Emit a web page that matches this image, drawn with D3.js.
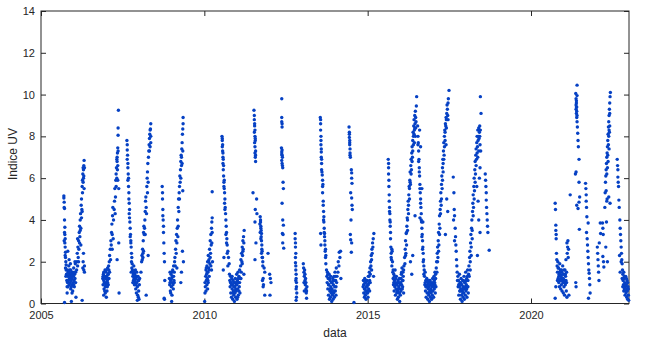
<!DOCTYPE html>
<html>
<head>
<meta charset="utf-8">
<style>
  body { margin: 0; background: #fff; }
  svg { display: block; font-family: "Liberation Sans", Arial, Helvetica, sans-serif; }
  .axis text { fill: #262626; font-size: 11px; }
  .axis line { stroke: #262626; }
  .lbl { fill: #262626; font-size: 12px; }
</style>
</head>
<body>
<svg id="chart"></svg>
<script src="https://d3js.org/d3.v7.min.js"></script>
<script>
// UV index readings, [decimal year, index], one array per campaign
var uv2005 = [[2005.70,5.15],[2005.70,5.05],[2005.71,4.85],[2005.72,4.55],[2005.72,4.0],[2005.73,3.65],[2005.73,3.3],[2005.74,3.1],[2005.74,2.7],[2005.75,2.45],[2005.75,2.2],[2005.76,2.0],[2005.77,1.85],[2005.77,1.6],[2005.78,1.4],[2005.79,1.1],[2005.80,0.8],[2005.80,0.5],[2005.72,0.05],
  [2005.81,1.6],[2005.82,1.3],[2005.83,1.5],[2005.84,1.1],[2005.85,1.4],[2005.86,0.9],[2005.87,1.2],[2005.88,1.6],[2005.89,1.0],[2005.90,1.3],[2005.91,0.7],[2005.92,1.1],[2005.93,1.4],[2005.94,0.9],[2005.95,1.2],[2005.96,1.5],[2005.97,0.6],[2005.98,1.0],[2005.99,1.3],[2006.00,1.7],[2006.01,1.1],[2006.02,0.8],[2006.03,1.4],[2006.04,1.2],[2006.05,1.9],[2006.06,1.5],[2006.07,0.3],[2005.93,0.1],[2005.95,0.5],[2005.82,2.5],[2005.86,2.1],[2005.90,1.9],
  [2006.09,1.6],[2006.10,2.0],[2006.11,2.4],[2006.12,1.8],[2006.13,2.7],[2006.14,2.2],[2006.15,3.0],[2006.16,2.6],[2006.17,3.4],[2006.18,3.7],[2006.19,3.2],[2006.20,4.0],[2006.21,4.3],[2006.22,3.6],[2006.23,4.7],[2006.24,5.0],[2006.25,4.5],[2006.26,5.6],[2006.27,5.9],[2006.28,6.2],[2006.29,5.8],[2006.30,6.4],[2006.31,6.6],[2006.32,6.85],[2006.30,6.0],[2006.28,1.7],[2006.26,0.15],[2006.33,6.5],[2006.31,1.6],[2006.33,1.8],[2006.29,2.0],
  [2005.71,4.6],[2005.72,3.4],[2005.73,2.9],[2005.74,2.3],[2005.75,1.7],[2005.76,1.3],[2005.71,3.0],[2005.81,1.0],[2005.83,0.8],[2005.85,1.8],[2005.87,1.5],[2005.89,1.3],[2005.91,1.6],[2005.93,0.8],[2005.97,1.4],[2006.00,0.9],[2006.02,1.5],[2006.04,2.0],[2006.06,1.0],
  [2006.12,3.1],[2006.15,2.0],[2006.18,2.9],[2006.20,3.5],[2006.22,2.8],[2006.24,4.1],[2006.26,4.4],[2006.27,5.3],[2006.29,6.5],[2006.31,6.1],[2006.32,5.5],[2006.30,2.4],[2006.33,1.5]];
var uv2006 = [[2006.89,1.2],[2006.90,0.9],[2006.91,1.4],[2006.92,1.1],[2006.93,0.7],[2006.94,1.3],[2006.95,1.0],[2006.96,1.6],[2006.97,0.8],[2006.98,1.2],[2006.99,1.5],[2007.00,1.0],[2007.01,1.3],[2007.02,0.6],[2007.03,1.1],[2007.04,1.7],[2007.05,1.4],[2007.06,0.9],[2007.07,1.8],[2007.08,1.2],[2007.09,2.0],[2007.10,1.5],[2006.92,0.4],[2006.97,0.5],[2007.00,0.3],
  [2007.10,2.3],[2007.12,2.6],[2007.13,2.1],[2007.14,3.0],[2007.15,2.8],[2007.16,3.4],[2007.17,3.8],[2007.18,3.3],[2007.19,4.2],[2007.20,4.6],[2007.22,4.0],[2007.24,4.5],[2007.26,5.5],[2007.28,5.1],[2007.29,5.9],[2007.30,6.2],[2007.31,6.5],[2007.32,6.0],[2007.33,6.8],[2007.34,7.2],[2007.35,7.45],[2007.34,6.4],[2007.36,8.05],[2007.36,8.4],[2007.37,9.25],[2007.38,5.5],[2007.38,2.9],[2007.39,0.5],[2007.33,2.1],
  [2006.90,1.3],[2006.92,1.5],[2006.94,1.0],[2006.96,1.3],[2006.98,0.9],[2007.00,1.6],[2007.02,1.2],[2007.04,1.0],[2007.06,1.4],[2007.08,1.6],[2006.95,0.6],[2007.03,0.8],
  [2007.18,2.6],[2007.21,3.1],[2007.25,4.9],[2007.27,4.3],[2007.30,5.6],[2007.32,6.9],[2007.33,7.0],[2007.35,6.6],[2007.36,7.3],[2007.35,5.9]];
var uv2007 = [[2007.63,7.8],[2007.64,7.35],[2007.65,7.1],[2007.64,6.9],[2007.66,6.5],[2007.67,6.2],[2007.66,5.9],[2007.68,5.6],[2007.69,5.0],[2007.70,4.8],[2007.71,4.5],[2007.70,4.3],[2007.72,3.9],[2007.73,3.6],[2007.74,3.3],[2007.75,2.9],[2007.76,2.7],[2007.77,2.4],[2007.78,2.2],[2007.79,1.9],
  [2007.80,1.6],[2007.81,1.3],[2007.82,1.5],[2007.83,1.1],[2007.84,1.8],[2007.85,1.2],[2007.86,0.9],[2007.87,1.4],[2007.88,1.0],[2007.89,1.6],[2007.90,0.7],[2007.91,1.2],[2007.92,0.5],[2007.93,1.0],[2007.94,1.3],[2007.95,0.8],[2007.96,0.4],[2007.97,1.1],[2007.98,0.3],[2007.99,0.6],[2008.00,0.2],[2008.01,0.9],[2007.95,0.15],
  [2008.06,1.5],[2008.08,2.0],[2008.09,2.3],[2008.10,2.1],[2008.11,2.6],[2008.12,2.4],[2008.13,3.0],[2008.14,3.4],[2008.15,3.7],[2008.16,3.3],[2008.18,4.0],[2008.19,4.4],[2008.20,4.9],[2008.21,5.1],[2008.22,4.6],[2008.24,5.6],[2008.25,6.0],[2008.26,6.3],[2008.27,6.7],[2008.28,5.8],[2008.30,7.3],[2008.31,7.6],[2008.32,7.9],[2008.33,8.1],[2008.34,7.5],[2008.35,8.35],[2008.36,8.6],[2008.22,0.4],[2008.28,2.3],
  [2007.64,7.6],[2007.66,6.7],[2007.68,6.0],[2007.69,5.3],[2007.71,4.1],[2007.73,3.2],[2007.75,3.0],[2007.77,2.0],[2007.78,1.7],[2007.76,1.5],
  [2007.81,1.0],[2007.83,1.4],[2007.85,1.5],[2007.87,1.1],[2007.89,1.3],[2007.91,0.9],[2007.93,1.5],[2007.97,1.3],[2007.99,1.1],[2008.02,1.2],
  [2008.12,2.2],[2008.14,2.5],[2008.17,3.6],[2008.19,3.3],[2008.23,4.3],[2008.26,5.3],[2008.29,7.0],[2008.32,7.3],[2008.34,8.3],[2008.36,7.7],[2008.36,8.0]];
var uv2008 = [[2008.71,5.6],[2008.72,5.3],[2008.72,5.0],[2008.73,4.5],[2008.73,4.2],[2008.74,4.0],[2008.75,3.7],[2008.75,3.4],[2008.76,2.9],[2008.77,2.4],[2008.78,2.0],[2008.79,1.1],[2008.77,0.25],[2008.78,0.2],
  [2008.93,1.2],[2008.94,0.9],[2008.95,1.5],[2008.96,0.6],[2008.97,1.1],[2008.98,1.4],[2008.99,0.8],[2009.00,1.2],[2009.01,0.4],[2009.02,1.0],[2009.03,1.6],[2009.04,1.3],[2009.05,0.7],[2009.06,1.8],[2009.07,1.1],[2009.08,1.5],[2009.09,2.0],[2009.00,0.1],
  [2009.10,2.2],[2009.11,1.8],[2009.12,2.6],[2009.13,3.0],[2009.14,2.4],[2009.15,3.3],[2009.16,1.7],[2009.17,3.6],[2009.18,4.0],[2009.19,3.2],[2009.20,4.6],[2009.21,5.0],[2009.22,4.4],[2009.23,5.3],[2009.24,5.6],[2009.25,6.1],[2009.26,5.8],[2009.27,6.4],[2009.28,6.8],[2009.29,7.1],[2009.30,6.6],[2009.31,7.4],[2009.32,7.7],[2009.33,8.1],[2009.34,8.35],[2009.35,8.9],[2009.33,2.5],[2009.30,1.5],[2009.28,1.0],[2009.36,2.0],
  [2008.95,1.0],[2008.97,0.5],[2009.00,1.5],[2009.02,1.3],[2009.04,0.9],[2009.06,1.3],[2009.08,1.0],
  [2009.16,2.9],[2009.20,3.7],[2009.24,5.0],[2009.28,6.0],[2009.30,7.0],[2009.32,6.7],[2009.34,7.3],[2009.35,8.6],[2009.34,5.4]];
var uv2010 = [[2010.01,0.1],[2010.02,0.5],[2010.02,1.0],[2010.03,0.8],[2010.04,1.3],[2010.05,0.6],[2010.05,1.6],[2010.06,1.1],[2010.07,1.4],[2010.08,0.9],[2010.08,1.8],[2010.09,1.2],[2010.10,2.0],[2010.11,1.5],[2010.12,1.0],[2010.12,2.3],[2010.13,1.7],[2010.14,2.1],[2010.15,1.3],[2010.16,2.6],[2010.17,1.9],[2010.18,3.0],[2010.19,2.4],[2010.20,3.3],[2010.21,2.8],[2010.22,3.6],[2010.23,3.9],[2010.24,4.1],[2010.24,5.35],[2010.22,1.6],[2010.25,2.0],
  [2010.06,1.7],[2010.09,1.5],[2010.11,1.1],[2010.13,2.0],[2010.15,1.6],[2010.18,2.2],[2010.20,1.8],[2010.23,2.9],[2010.24,3.4],[2010.10,0.7],
  [2010.54,8.0],[2010.55,7.8],[2010.55,7.5],[2010.56,7.3],[2010.57,7.0],[2010.57,6.7],[2010.58,6.4],[2010.59,6.1],[2010.60,5.8],[2010.61,5.5],[2010.62,5.3],[2010.63,5.0],[2010.64,4.6],[2010.65,4.3],[2010.66,4.0],[2010.67,3.7],[2010.68,3.4],[2010.69,3.1],[2010.70,2.8],[2010.72,2.5],[2010.74,2.2],[2010.76,1.9],[2010.60,2.2],[2010.58,1.6],
  [2010.55,7.9],[2010.56,7.6],[2010.57,7.2],[2010.58,6.9],[2010.59,6.6],[2010.60,5.6],[2010.61,5.9],[2010.62,4.8],[2010.63,4.5],[2010.66,3.3],[2010.68,2.9],[2010.70,2.4],[2010.72,1.8],
  [2010.77,1.4],[2010.78,1.1],[2010.79,0.8],[2010.80,1.3],[2010.81,0.5],[2010.82,1.0],[2010.83,0.3],[2010.84,1.2],[2010.85,0.7],[2010.86,0.9],[2010.87,0.2],[2010.88,1.1],[2010.89,0.6],[2010.90,0.4],[2010.91,1.0],[2010.92,0.1],[2010.93,0.8],[2010.94,0.5],[2010.95,1.2],[2010.96,0.3],[2010.97,0.9],[2010.98,0.6],[2010.99,1.4],[2011.00,0.2],[2011.01,1.1],[2011.02,0.7],[2011.03,1.5],[2011.04,0.4],[2011.05,1.0],[2011.06,1.3],[2011.07,0.8],[2011.08,1.6],[2011.09,0.5],[2011.10,1.2],
  [2010.80,1.0],[2010.83,0.9],[2010.85,1.3],[2010.88,0.5],[2010.90,0.8],[2010.92,0.6],[2010.94,1.0],[2010.96,0.7],[2010.98,1.0],[2011.00,0.9],[2011.02,0.3],[2011.04,1.2],[2011.06,0.6],[2011.08,1.0],
  [2011.11,1.8],[2011.12,2.1],[2011.13,1.5],[2011.14,2.4],[2011.15,2.0],[2011.16,2.7],[2011.17,2.3],[2011.18,3.0],[2011.19,2.6],[2011.20,3.2],[2011.22,3.5],[2011.21,1.4],[2011.12,1.2],[2011.16,1.9],[2011.18,2.5],[2011.21,2.9]];
var uv2011 = [[2011.49,5.3],[2011.52,9.25],[2011.53,8.8],[2011.54,8.5],[2011.53,8.2],[2011.55,8.0],[2011.56,7.8],[2011.54,7.7],[2011.55,7.5],[2011.57,7.3],[2011.56,7.0],[2011.57,6.8],[2011.60,5.0],[2011.56,4.5],[2011.61,4.3],[2011.55,3.9],[2011.58,2.9],[2011.55,2.1],
  [2011.53,9.0],[2011.54,8.6],[2011.55,8.3],[2011.56,7.9],[2011.55,7.2],[2011.57,7.1],
  [2011.70,3.8],[2011.71,4.15],[2011.72,4.0],[2011.72,3.9],[2011.73,3.6],[2011.73,3.7],[2011.74,3.5],[2011.74,3.2],[2011.75,3.35],[2011.75,3.0],[2011.76,2.8],[2011.76,2.6],[2011.77,2.5],[2011.78,2.2],[2011.79,2.0],[2011.83,1.7],[2011.85,1.5],[2011.78,1.1],[2011.81,0.9],[2011.85,0.4],[2011.80,0.8],[2011.95,2.4],[2012.00,1.4],[2012.02,1.2],[2012.04,1.0],[2012.01,0.4],
  [2011.71,3.4],[2011.73,3.1],[2011.75,2.4],[2011.77,2.2],[2011.79,1.8],[2011.80,1.2]];
var uv2012 = [[2012.37,9.8],[2012.37,8.9],[2012.38,8.6],[2012.38,8.45],[2012.36,7.45],[2012.37,7.25],[2012.38,7.1],[2012.39,7.0],[2012.37,6.85],[2012.38,6.7],[2012.40,6.5],[2012.41,5.8],[2012.42,5.5],[2012.38,4.8],[2012.40,4.0],[2012.42,3.75],[2012.39,3.35],[2012.41,3.3],[2012.40,2.9],[2012.43,2.65],
  [2012.37,8.7],[2012.38,7.35],[2012.39,6.6],[2012.37,7.15],
  [2012.78,3.35],[2012.78,3.1],[2012.79,2.9],[2012.79,2.7],[2012.80,2.4],[2012.79,1.95],[2012.80,1.8],[2012.80,1.6],[2012.81,1.4],[2012.81,1.2],[2012.82,1.0],[2012.82,0.8],[2012.83,0.5],[2012.82,0.3],[2012.81,0.15],[2012.79,2.2],[2012.80,1.1],[2012.81,0.7],
  [2013.03,1.9],[2013.04,1.7],[2013.05,1.5],[2013.06,1.3],[2013.07,1.6],[2013.08,1.1],[2013.09,0.9],[2013.10,1.2],[2013.11,0.7],[2013.12,0.5],[2013.13,0.25],[2013.14,0.8],[2013.06,0.6],[2013.05,1.0],[2013.08,1.4],[2013.11,1.0],[2013.13,0.6]];
var uv2013 = [[2013.55,8.9],[2013.56,8.8],[2013.56,8.3],[2013.57,8.0],[2013.57,7.6],[2013.58,7.25],[2013.58,7.0],[2013.59,6.7],[2013.59,6.4],[2013.61,6.15],[2013.62,5.9],[2013.63,5.7],[2013.62,5.3],[2013.64,4.7],[2013.65,4.4],[2013.66,4.15],[2013.66,3.9],[2013.67,3.6],[2013.68,3.35],[2013.68,3.2],[2013.69,2.8],[2013.70,2.5],[2013.71,2.2],[2013.72,1.9],[2013.56,3.35],[2013.57,2.8],
  [2013.56,8.6],[2013.57,7.8],[2013.58,7.4],[2013.59,6.9],[2013.60,6.3],[2013.62,5.6],[2013.64,4.9],[2013.65,4.0],[2013.67,3.4],[2013.69,3.0],[2013.71,2.6],[2013.72,2.3],
  [2013.74,1.6],[2013.75,1.3],[2013.76,1.0],[2013.77,1.5],[2013.78,0.7],[2013.79,1.2],[2013.80,0.4],[2013.81,0.9],[2013.82,1.4],[2013.83,0.2],[2013.84,0.6],[2013.85,1.1],[2013.86,0.3],[2013.87,0.8],[2013.88,0.5],[2013.89,1.0],[2013.90,0.1],[2013.91,0.7],[2013.92,0.4],[2013.93,1.2],[2013.94,0.2],[2013.95,0.9],[2013.96,0.5],[2013.97,1.3],[2013.98,0.3],[2013.99,0.8],[2014.00,1.5],[2014.01,0.6],[2014.02,1.1],[2014.03,0.4],[2014.04,1.7],[2014.05,1.0],
  [2013.78,1.4],[2013.80,0.9],[2013.83,1.2],[2013.85,0.7],[2013.87,1.3],[2013.89,0.6],[2013.91,1.0],[2013.93,0.5],[2013.95,1.1],[2013.97,0.6],[2013.99,1.1],[2014.01,1.3],[2014.03,0.8],[2014.06,1.3],
  [2014.09,1.5],[2014.10,2.0],[2014.12,1.8],[2014.13,2.45],[2014.15,2.2],[2014.17,2.5],[2014.18,1.2]];
var uv2014 = [[2014.43,8.45],[2014.44,8.2],[2014.44,7.95],[2014.45,7.8],[2014.45,7.6],[2014.46,7.4],[2014.46,7.2],[2014.47,7.0],[2014.50,6.4],[2014.51,6.25],[2014.51,6.0],[2014.52,5.75],[2014.48,5.3],[2014.51,5.05],[2014.52,4.7],[2014.53,4.5],[2014.49,4.0],[2014.47,3.3],[2014.48,3.05],[2014.51,2.9],[2014.50,2.45],[2014.58,0.05],[2014.45,7.7],[2014.46,7.1],[2014.44,8.1],
  [2014.86,0.8],[2014.87,1.1],[2014.88,0.5],[2014.89,0.9],[2014.90,0.3],[2014.91,1.2],[2014.92,0.7],[2014.93,0.4],[2014.94,1.0],[2014.95,0.2],[2014.96,0.8],[2014.97,0.5],[2014.98,1.1],[2014.99,0.6],[2015.00,0.9],[2015.01,0.3],[2015.02,1.3],[2015.03,0.7],[2015.04,1.0],[2015.05,1.5],[2015.06,0.6],
  [2014.88,0.9],[2014.90,0.7],[2014.92,1.0],[2014.94,0.6],[2014.96,1.1],[2014.98,0.8],[2015.00,0.5],[2015.02,0.9],[2015.04,1.3],[2015.06,1.1],[2015.08,1.0],[2015.12,1.6],
  [2015.07,1.7],[2015.08,1.4],[2015.09,2.0],[2015.10,1.8],[2015.11,2.3],[2015.12,2.1],[2015.13,2.6],[2015.14,2.4],[2015.15,2.9],[2015.16,2.7],[2015.17,3.1],[2015.19,3.35],[2015.18,1.3]];
var uv2015 = [[2015.63,6.9],[2015.64,6.5],[2015.64,6.2],[2015.65,5.9],[2015.66,5.2],[2015.66,4.9],[2015.67,4.6],[2015.68,4.3],[2015.68,4.0],[2015.69,3.7],[2015.70,3.4],[2015.71,2.7],[2015.72,2.4],[2015.73,2.1],[2015.74,1.8],[2015.75,2.5],[2015.76,2.0],
  [2015.64,6.7],[2015.65,5.6],[2015.67,4.4],[2015.69,3.9],[2015.70,3.1],[2015.72,2.2],[2015.74,2.6],
  [2015.77,1.5],[2015.78,1.2],[2015.79,0.9],[2015.80,1.4],[2015.81,0.6],[2015.82,1.1],[2015.83,0.8],[2015.84,1.6],[2015.85,0.4],[2015.86,1.0],[2015.87,0.7],[2015.88,1.3],[2015.89,0.5],[2015.90,0.9],[2015.91,0.2],[2015.92,0.6],[2015.93,1.1],[2015.94,0.3],[2015.95,0.8],[2015.96,0.5],[2015.97,1.2],[2015.98,0.1],[2015.99,0.7],[2016.00,0.4],[2016.01,1.0],[2016.02,0.6],[2016.03,1.4],[2016.04,0.9],[2016.05,1.7],[2016.06,1.1],[2016.07,0.8],[2016.08,1.5],[2016.09,1.3],[2016.10,0.5],[2016.11,1.8],
  [2015.78,1.6],[2015.80,1.0],[2015.82,1.3],[2015.84,0.9],[2015.86,1.2],[2015.88,0.9],[2015.90,0.6],[2015.92,1.0],[2015.94,0.7],[2015.96,1.0],[2015.98,0.5],[2016.00,0.9],[2016.02,1.2],[2016.04,1.5],[2016.06,0.7],[2016.08,1.1],[2016.10,1.6],
  [2016.13,2.2],[2016.14,1.9],[2016.15,2.6],[2016.16,3.0],[2016.17,2.4],[2016.18,3.35],[2016.19,2.8],[2016.20,3.7],[2016.21,4.1],[2016.22,3.5],[2016.23,4.5],[2016.24,4.9],[2016.25,4.3],[2016.26,5.2],[2016.27,5.6],[2016.28,5.0],[2016.29,5.9],[2016.30,6.3],[2016.31,5.7],[2016.32,6.6],[2016.33,6.9],[2016.34,6.4],[2016.35,7.2],[2016.36,7.5],[2016.37,7.0],[2016.38,7.8],[2016.39,8.2],[2016.40,7.6],[2016.41,8.5],[2016.42,8.8],[2016.43,8.3],[2016.44,9.0],[2016.45,8.6],[2016.47,8.9],[2016.49,9.45],[2016.50,9.9],[2016.46,8.0],[2016.48,8.7],[2016.31,2.0],[2016.35,1.4],[2016.38,2.3],[2016.45,4.2],
  [2016.16,2.3],[2016.19,3.4],[2016.22,4.0],[2016.25,4.7],[2016.28,5.5],[2016.30,5.8],[2016.33,6.2],[2016.36,6.8],[2016.38,7.3],[2016.40,8.0],[2016.42,8.1],[2016.44,8.4],[2016.46,9.2],[2016.43,7.7],[2016.47,8.4],
  [2016.53,8.5],[2016.54,8.0],[2016.55,7.7],[2016.56,7.3],[2016.57,6.9],[2016.58,6.5],[2016.59,6.1],[2016.60,5.7],[2016.61,5.3],[2016.62,5.0],[2016.63,4.6],[2016.64,4.3],[2016.65,3.9],[2016.66,3.6],[2016.67,3.3],[2016.68,3.0],[2016.69,2.7],[2016.70,2.4],[2016.71,2.1],[2016.72,1.8],[2016.73,1.6],[2016.59,8.3],[2016.62,7.5],[2016.60,4.1],[2016.66,5.5],[2016.69,3.9],
  [2016.54,7.6],[2016.56,6.8],[2016.58,6.3],[2016.60,5.5],[2016.62,4.8],[2016.64,4.0],[2016.66,3.2],[2016.68,2.6],[2016.70,2.0],[2016.72,1.4],
  [2016.74,1.3],[2016.75,0.9],[2016.76,1.5],[2016.77,0.6],[2016.78,1.1],[2016.79,0.3],[2016.80,0.8],[2016.81,1.2],[2016.82,0.5],[2016.83,0.9],[2016.84,0.2],[2016.85,0.7],[2016.86,1.0],[2016.87,0.4],[2016.88,0.8],[2016.89,0.1],[2016.90,0.6],[2016.91,1.1],[2016.92,0.3],[2016.93,0.7],[2016.94,0.5],[2016.95,1.0],[2016.96,0.2],[2016.97,0.8],[2016.98,0.4],[2016.99,1.2],[2017.00,0.6],[2017.01,0.9],[2017.02,0.3],[2017.03,1.3],[2017.04,0.7],[2017.05,1.0],[2017.06,1.5],[2017.07,0.5],[2017.08,1.2],[2017.09,0.8],
  [2016.76,1.0],[2016.78,0.8],[2016.80,1.1],[2016.82,0.8],[2016.84,1.0],[2016.86,0.5],[2016.88,1.1],[2016.90,0.9],[2016.92,0.6],[2016.94,0.9],[2016.96,0.6],[2016.98,0.9],[2017.00,1.0],[2017.02,0.8],[2017.04,1.1],[2017.06,0.9],[2017.08,1.4]];
var uv2017 = [[2017.10,1.7],[2017.11,2.0],[2017.12,1.5],[2017.13,2.4],[2017.14,2.7],[2017.15,2.2],[2017.16,3.0],[2017.17,3.4],[2017.18,2.8],[2017.19,3.8],[2017.20,4.2],[2017.21,3.6],[2017.22,4.5],[2017.23,4.9],[2017.24,5.3],[2017.25,4.7],[2017.26,5.7],[2017.27,6.1],[2017.28,5.5],[2017.29,6.5],[2017.30,6.9],[2017.31,6.3],[2017.32,7.3],[2017.33,7.7],[2017.34,7.1],[2017.35,8.0],[2017.36,8.3],[2017.37,7.8],[2017.38,8.6],[2017.40,8.9],[2017.41,8.4],[2017.42,9.1],[2017.44,9.3],[2017.46,8.8],[2017.47,9.8],[2017.49,10.2],[2017.45,9.0],[2017.42,5.0],[2017.45,4.4],[2017.38,3.3],
  [2017.14,2.0],[2017.17,2.5],[2017.20,3.3],[2017.23,4.3],[2017.26,5.0],[2017.29,5.9],[2017.31,6.7],[2017.33,6.9],[2017.35,7.5],[2017.37,8.2],[2017.39,8.5],[2017.41,8.8],[2017.43,9.5],[2017.46,9.6],[2017.40,7.6],
  [2017.62,6.05],[2017.64,5.3],[2017.65,4.5],[2017.66,4.2],[2017.68,3.6],[2017.69,3.2],[2017.70,2.8],[2017.71,2.5],[2017.72,2.1],[2017.73,1.8],[2017.74,1.5],[2017.75,1.1],[2017.66,3.0],[2017.63,4.0],
  [2017.76,1.3],[2017.77,0.8],[2017.78,1.1],[2017.79,0.4],[2017.80,0.9],[2017.81,1.4],[2017.82,0.6],[2017.83,1.0],[2017.84,0.2],[2017.85,0.7],[2017.86,1.2],[2017.87,0.4],[2017.88,0.9],[2017.89,0.1],[2017.90,0.6],[2017.91,1.1],[2017.92,0.3],[2017.93,0.8],[2017.94,0.5],[2017.95,1.3],[2017.96,0.2],[2017.97,0.7],[2017.98,1.0],[2017.99,0.4],[2018.00,1.5],[2018.01,0.6],[2018.02,0.9],[2018.03,1.2],[2018.04,0.3],[2018.05,0.8],[2018.06,1.6],[2018.07,1.1],[2018.08,0.5],
  [2017.77,1.1],[2017.79,0.9],[2017.81,0.8],[2017.83,0.6],[2017.85,1.0],[2017.87,0.9],[2017.89,0.7],[2017.91,0.5],[2017.93,1.1],[2017.95,0.7],[2017.97,1.0],[2017.99,0.8],[2018.01,1.1],[2018.03,0.7],[2018.05,1.3],[2018.07,0.8]];
var uv2018 = [[2018.09,1.4],[2018.10,1.8],[2018.11,1.3],[2018.12,2.2],[2018.13,2.5],[2018.14,2.0],[2018.15,2.9],[2018.16,3.3],[2018.17,2.7],[2018.18,3.6],[2018.19,4.0],[2018.20,3.5],[2018.21,4.4],[2018.22,4.8],[2018.23,5.2],[2018.24,4.6],[2018.25,5.6],[2018.26,6.0],[2018.27,5.4],[2018.28,6.4],[2018.29,6.8],[2018.30,6.2],[2018.31,7.1],[2018.32,7.4],[2018.33,6.9],[2018.34,7.7],[2018.35,8.0],[2018.36,7.5],[2018.37,8.3],[2018.39,8.0],[2018.40,7.3],[2018.42,8.2],[2018.44,7.6],[2018.45,9.9],[2018.47,9.1],[2018.43,8.5],[2018.34,5.6],[2018.38,4.9],[2018.40,4.0],[2018.44,3.4],[2018.36,2.3],
  [2018.14,1.6],[2018.17,2.3],[2018.20,3.1],[2018.23,4.2],[2018.26,5.0],[2018.29,5.8],[2018.32,6.6],[2018.35,7.2],[2018.37,7.0],[2018.38,7.8],[2018.40,8.4],[2018.41,7.9],[2018.43,8.0],[2018.45,8.3],[2018.46,7.3],[2018.44,6.5],[2018.42,6.0],
  [2018.60,6.2],[2018.61,5.9],[2018.62,5.6],[2018.63,5.3],[2018.63,4.95],[2018.64,4.6],[2018.65,4.3],[2018.66,4.0],[2018.67,3.7],[2018.68,3.4],[2018.72,2.55]];
var uv2020 = [[2020.74,4.8],[2020.75,4.5],[2020.76,3.75],[2020.76,3.5],[2020.77,3.3],[2020.77,3.1],[2020.78,2.4],[2020.79,2.1],[2020.76,0.8],[2020.74,0.25],
  [2020.80,1.8],[2020.81,1.5],[2020.82,2.0],[2020.83,1.2],[2020.84,1.7],[2020.85,1.0],[2020.86,1.4],[2020.87,0.8],[2020.88,1.9],[2020.89,1.1],[2020.90,1.6],[2020.91,0.7],[2020.92,1.3],[2020.93,0.9],[2020.94,1.5],[2020.95,0.6],[2020.96,1.2],[2020.97,1.8],[2020.98,1.0],[2020.99,0.5],[2021.00,1.4],[2021.01,0.8],[2021.02,1.1],[2021.03,0.4],[2021.04,1.6],[2021.05,0.9],[2021.06,1.3],[2021.07,2.1],[2021.08,0.6],[2021.09,1.0],[2021.10,0.3],
  [2020.81,1.1],[2020.83,1.7],[2020.85,1.3],[2020.87,1.5],[2020.89,1.4],[2020.91,1.2],[2020.93,1.6],[2020.95,1.1],[2020.97,1.4],[2020.99,1.2],[2021.01,1.6],[2021.03,1.0],[2021.05,1.4],[2021.07,1.1],[2021.09,1.5],
  [2021.11,2.4],[2021.12,2.7],[2021.13,3.0],[2021.14,2.2],[2021.15,2.6],[2021.16,0.4],[2021.20,5.2],[2021.10,2.9]];
var uv2021 = [[2021.41,10.45],[2021.37,10.05],[2021.38,9.8],[2021.39,9.6],[2021.40,9.4],[2021.38,9.3],[2021.39,9.1],[2021.40,8.9],[2021.41,8.7],[2021.42,8.45],[2021.43,8.15],[2021.44,7.8],[2021.45,7.5],[2021.47,6.9],[2021.36,6.2],[2021.38,6.3],[2021.47,5.8],[2021.49,5.1],[2021.47,4.85],[2021.44,4.55],[2021.48,3.55],[2021.40,4.7],[2021.37,1.0],[2021.38,0.8],[2021.39,9.7],[2021.41,9.95],[2021.39,9.4],[2021.40,9.2],[2021.41,9.0],[2021.38,9.5],
  [2021.67,5.75],[2021.68,5.5],[2021.69,5.2],[2021.69,4.9],[2021.70,4.6],[2021.71,4.15],[2021.70,3.4],[2021.72,3.1],[2021.73,2.8],[2021.74,2.5],[2021.75,2.2],[2021.76,1.9],[2021.77,1.6],[2021.78,1.45],[2021.79,1.2],[2021.80,0.9],[2021.81,0.5],[2021.76,0.25],[2021.75,3.85],[2022.03,2.7],[2022.04,2.4],[2022.05,2.1],[2022.06,1.8],[2022.07,1.5],[2022.08,1.1],[2022.12,3.85],[2022.13,3.35],[2022.09,2.9]];
var uv2022 = [[2022.19,3.85],[2022.20,3.6],[2022.21,3.3],[2022.20,2.25],[2022.22,2.0],[2022.23,1.75],[2022.27,5.3],[2022.28,5.8],[2022.29,6.1],[2022.30,6.4],[2022.31,6.7],[2022.32,7.0],[2022.33,7.2],[2022.34,7.5],[2022.35,7.8],[2022.36,8.1],[2022.37,8.45],[2022.38,8.7],[2022.39,9.0],[2022.40,9.3],[2022.41,9.6],[2022.42,9.9],[2022.43,10.1],[2022.41,8.5],[2022.39,7.4],[2022.36,6.8],[2022.33,5.0],[2022.42,4.8],[2022.38,5.1],[2022.34,2.0],[2022.31,3.9],[2022.29,2.7],[2022.26,4.6],[2022.30,5.4],[2022.32,4.9],
  [2022.38,8.0],[2022.40,8.2],[2022.41,9.1],[2022.39,8.3],[2022.37,7.6],[2022.35,7.1],[2022.34,6.5],[2022.32,6.2],
  [2022.64,6.9],[2022.65,6.6],[2022.66,6.4],[2022.66,6.05],[2022.67,5.8],[2022.68,5.6],[2022.69,4.95],[2022.70,4.6],[2022.72,4.0],[2022.73,3.6],[2022.74,3.3],[2022.75,3.0],[2022.76,2.7],[2022.77,2.4],[2022.78,2.1],[2022.79,1.9],[2022.80,1.6],[2022.81,1.4],[2022.82,1.1],[2022.83,0.9],[2022.84,1.5],[2022.85,1.2],[2022.86,0.7],[2022.87,1.0],[2022.88,0.4],[2022.89,0.8],[2022.90,1.3],[2022.91,0.5],[2022.92,0.9],[2022.93,0.3],[2022.94,1.1],[2022.95,0.6],[2022.96,0.2],[2022.97,0.8],[2022.98,0.4],[2022.99,0.15],[2022.71,2.3],[2022.73,1.5],
  [2022.84,0.6],[2022.86,1.3],[2022.88,0.9],[2022.90,0.6],[2022.92,1.2],[2022.94,0.7],[2022.96,1.0],[2022.98,0.7],[2022.79,1.2],[2022.81,0.8],[2022.76,2.0]];

var xTicks = [2005, 2010, 2015, 2020];
var yTicks = [0, 2, 4, 6, 8, 10, 12, 14];

var width = 650, height = 340;
var margin = {top: 11, right: 21, bottom: 36.5, left: 41};
var w = width - margin.left - margin.right, h = height - margin.top - margin.bottom;

var svg = d3.select("#chart").attr("width", width).attr("height", height);
var g = svg.append("g").attr("transform", "translate(" + margin.left + "," + margin.top + ")");

var x = d3.scaleLinear().domain([2005, 2023]).range([0, w]);
var y = d3.scaleLinear().domain([0, 14]).range([h, 0]);

var points = [uv2005, uv2006, uv2007, uv2008, uv2010, uv2011, uv2012, uv2013, uv2014, uv2015, uv2017, uv2018, uv2020, uv2021, uv2022].flat();

// axes, ticks point inward like the original
g.append("g").attr("class", "axis").attr("transform", "translate(0," + h + ")")
    .call(d3.axisBottom(x).tickValues(xTicks).tickFormat(d3.format("d")).tickSize(-5).tickSizeOuter(0).tickPadding(8));
g.append("g").attr("class", "axis")
    .call(d3.axisTop(x).tickValues(xTicks).tickFormat("").tickSize(-5).tickSizeOuter(0));
g.append("g").attr("class", "axis")
    .call(d3.axisLeft(y).tickValues(yTicks).tickSize(-5).tickSizeOuter(0).tickPadding(6));
g.append("g").attr("class", "axis").attr("transform", "translate(" + w + ",0)")
    .call(d3.axisRight(y).tickValues(yTicks).tickFormat("").tickSize(-5).tickSizeOuter(0));
g.selectAll(".axis .domain").remove();

g.append("rect").attr("width", w).attr("height", h)
    .attr("fill", "none").attr("stroke", "#262626").attr("stroke-width", 1);

g.append("g").selectAll("circle")
    .data(points)
    .enter().append("circle")
    .attr("cx", d => x(d[0]))
    .attr("cy", d => y(d[1]))
    .attr("r", 1.7)
    .attr("fill", "#0641c4");

svg.append("text").attr("class", "lbl")
    .attr("x", margin.left + w / 2).attr("y", 337)
    .attr("text-anchor", "middle").text("data");
svg.append("text").attr("class", "lbl")
    .attr("transform", "translate(17," + 154 + ") rotate(-90)")
    .attr("text-anchor", "middle").text("Indice UV");
</script>
</body>
</html>
